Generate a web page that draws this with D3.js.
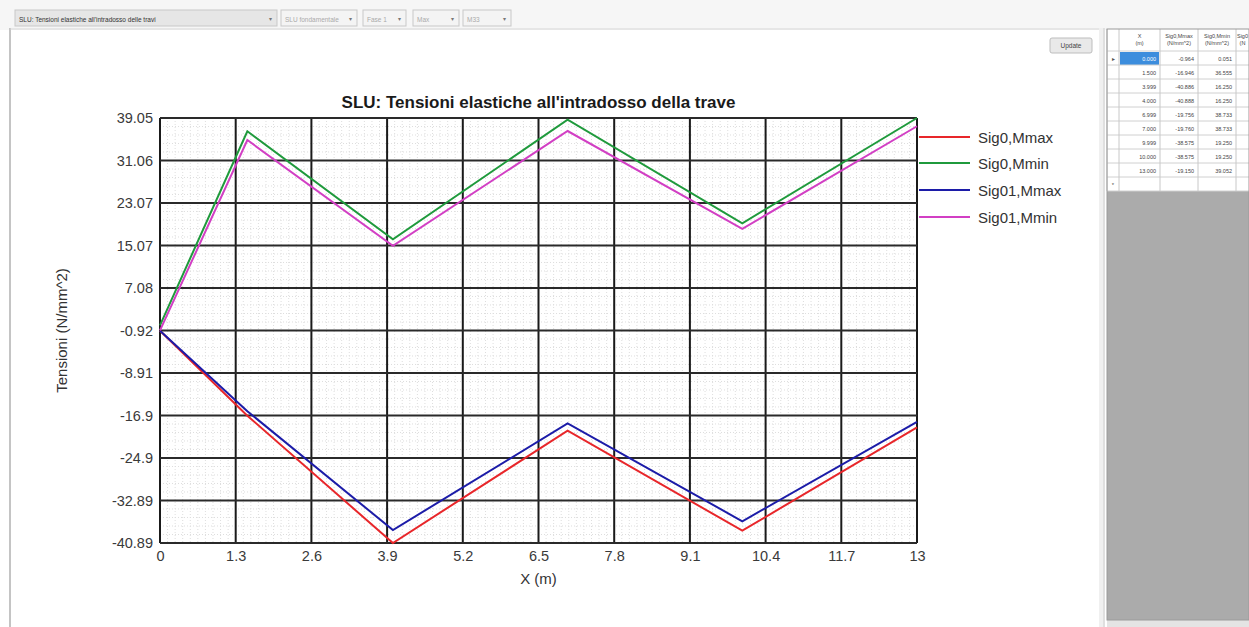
<!DOCTYPE html>
<html>
<head>
<meta charset="utf-8">
<script src="https://cdn.jsdelivr.net/npm/d3@7"></script>
<style>
  html, body { margin: 0; padding: 0; background: #ffffff; }
  svg { display: block; font-family: Arial, "Liberation Sans", sans-serif; }
</style>
</head>
<body>
<svg id="chart" width="1249" height="627"></svg>
<script>
// Stations along the beam (m)
const stations = [0, 1.5, 4, 7, 10, 13];

// Stresses at the lower fibre (N/mm^2)
const sig0Mmax  = [-0.964, -16.946, -40.888, -19.756, -38.575, -19.150];
const sig0Mmin  = [0.051, 36.555, 16.250, 38.733, 19.250, 39.052];
const sig01Mmax = [-0.95, -16.1, -38.45, -18.4, -36.8, -18.1];
const sig01Mmin = [-0.9, 34.9, 15.0, 36.6, 18.2, 37.5];

const seriesNames  = ["Sig0,Mmax", "Sig0,Mmin", "Sig01,Mmax", "Sig01,Mmin"];
const seriesColors = ["#e8262a", "#1f9a3c", "#1c1ca8", "#d23fc4"];

// Axis tick labels
const xTickLabels = ["0", "1.3", "2.6", "3.9", "5.2", "6.5", "7.8", "9.1", "10.4", "11.7", "13"];
const yTickLabels = ["39.05", "31.06", "23.07", "15.07", "7.08", "-0.92", "-8.91", "-16.9", "-24.9", "-32.89", "-40.89"];

// Results grid shown beside the chart
const gridX     = ["0.000", "1.500", "3.999", "4.000", "6.999", "7.000", "9.999", "10.000", "13.000"];
const gridMmax  = ["-0.964", "-16.946", "-40.886", "-40.888", "-19.756", "-19.760", "-38.575", "-38.575", "-19.150"];
const gridMmin  = ["0.051", "36.555", "16.250", "16.250", "38.733", "38.733", "19.250", "19.250", "39.052"];

(function draw() {
const svg = d3.select("#chart");

// ---------- window chrome ----------
svg.append("rect").attr("x", 0).attr("y", 0).attr("width", 1249).attr("height", 627).attr("fill", "#ffffff");
svg.append("rect").attr("x", 0).attr("y", 0).attr("width", 1249).attr("height", 30).attr("fill", "#f6f6f6");

// toolbar combo boxes
const combos = [
  {x: 15, w: 262, t: "SLU: Tensioni elastiche all'intradosso delle travi"},
  {x: 281, w: 76, t: "SLU fondamentale"},
  {x: 363, w: 43, t: "Fase 1"},
  {x: 413, w: 46, t: "Max"},
  {x: 463, w: 48, t: "M33"}
];
combos.forEach(c => {
  const g = svg.append("g");
  g.append("rect").attr("x", c.x).attr("y", 10).attr("width", c.w).attr("height", 16)
    .attr("fill", c.x === 15 ? "#e6e6e6" : "#f4f4f4").attr("stroke", "#c8c8c8");
  g.append("text").attr("x", c.x + 4).attr("y", 21.5).attr("font-size", 6.5)
    .attr("fill", c.x === 15 ? "#333" : "#aaa").text(c.t);
  g.append("text").attr("x", c.x + c.w - 8).attr("y", 21).attr("font-size", 6).attr("fill", "#777").text("▾");
});

// chart panel frame
svg.append("line").attr("x1", 10).attr("x2", 10).attr("y1", 28).attr("y2", 627).attr("stroke", "#c4c4c4").attr("stroke-width", 2);
svg.append("line").attr("x1", 10).attr("x2", 1100).attr("y1", 29).attr("y2", 29).attr("stroke", "#d6d6d6");
svg.append("rect").attr("x", 1099).attr("y", 28).attr("width", 6).attr("height", 599).attr("fill", "#f0f0f0");
svg.append("line").attr("x1", 1104).attr("x2", 1104).attr("y1", 28).attr("y2", 627).attr("stroke", "#cfcfcf");

// update button
svg.append("rect").attr("x", 1050).attr("y", 38).attr("width", 42).attr("height", 15).attr("rx", 2)
  .attr("fill", "#e9e9e9").attr("stroke", "#bdbdbd");
svg.append("text").attr("x", 1071).attr("y", 48).attr("text-anchor", "middle").attr("font-size", 6.5)
  .attr("fill", "#444").text("Update");

// ---------- plot ----------
const pL = 160, pR = 917, pT = 118, pB = 543;
const x = d3.scaleLinear().domain([0, 13]).range([pL, pR]);
const y = d3.scaleLinear().domain([+yTickLabels[yTickLabels.length - 1], +yTickLabels[0]]).range([pB, pT]);

const xTicks = xTickLabels.map(Number);
const yTicks = yTickLabels.map(Number);

const plot = svg.append("g");

// minor grid
const xMinor = [];
for (let i = 0; i < xTicks.length - 1; i++) {
  for (let k = 1; k < 10; k++) xMinor.push(xTicks[i] + (xTicks[i + 1] - xTicks[i]) * k / 10);
}
const yMinor = [];
for (let i = 0; i < yTicks.length - 1; i++) {
  for (let k = 1; k < 5; k++) yMinor.push(yTicks[i] + (yTicks[i + 1] - yTicks[i]) * k / 5);
}
plot.selectAll(".vminor").data(xMinor).enter().append("line")
  .attr("x1", d => x(d)).attr("x2", d => x(d)).attr("y1", pT).attr("y2", pB)
  .attr("stroke", "#dedede").attr("stroke-width", 1).attr("stroke-dasharray", "1,2");
plot.selectAll(".hminor").data(yMinor).enter().append("line")
  .attr("x1", pL).attr("x2", pR).attr("y1", d => y(d)).attr("y2", d => y(d))
  .attr("stroke", "#dedede").attr("stroke-width", 1).attr("stroke-dasharray", "1,2");

// major grid
plot.selectAll(".vmajor").data(xTicks).enter().append("line")
  .attr("x1", d => x(d)).attr("x2", d => x(d)).attr("y1", pT).attr("y2", pB)
  .attr("stroke", "#1a1a1a").attr("stroke-width", 2);
plot.selectAll(".hmajor").data(yTicks).enter().append("line")
  .attr("x1", pL).attr("x2", pR).attr("y1", d => y(d)).attr("y2", d => y(d))
  .attr("stroke", "#2a2a2a").attr("stroke-width", 2);

// axes (labels only, frame is the major grid)
const xAxis = d3.axisBottom(x).tickValues(xTicks).tickSize(0).tickPadding(8)
  .tickFormat((d, i) => xTickLabels[i]);
const yAxis = d3.axisLeft(y).tickValues(yTicks).tickSize(0).tickPadding(7)
  .tickFormat((d, i) => yTickLabels[i]);

const gx = svg.append("g").attr("transform", `translate(0,${pB})`).call(xAxis);
const gy = svg.append("g").attr("transform", `translate(${pL},0)`).call(yAxis);
[gx, gy].forEach(g => {
  g.select(".domain").remove();
  g.selectAll("text").attr("font-size", 14.5).attr("fill", "#3a3a3a")
    .attr("font-family", "Arial, 'Liberation Sans', sans-serif");
});

// series lines
const allSeries = [sig0Mmax, sig0Mmin, sig01Mmax, sig01Mmin];
const line = d3.line().x((d, i) => x(stations[i])).y(d => y(d));
allSeries.forEach((s, i) => {
  plot.append("path").datum(s).attr("d", line).attr("fill", "none")
    .attr("stroke", seriesColors[i]).attr("stroke-width", 2).attr("stroke-linejoin", "miter");
});

// title
svg.append("text").attr("x", (pL + pR) / 2).attr("y", 108).attr("text-anchor", "middle")
  .attr("font-size", 17).attr("font-weight", "bold").attr("fill", "#1a1a1a")
  .text("SLU: Tensioni elastiche all'intradosso della trave");

// axis titles
svg.append("text").attr("x", (pL + pR) / 2).attr("y", 584).attr("text-anchor", "middle")
  .attr("font-size", 15).attr("fill", "#333").text("X (m)");
svg.append("text").attr("transform", `translate(67,${(pT + pB) / 2}) rotate(-90)`)
  .attr("text-anchor", "middle").attr("font-size", 15).attr("fill", "#333").text("Tensioni (N/mm^2)");

// legend
const legendY = [137, 163, 190, 217];
seriesNames.forEach((n, i) => {
  svg.append("line").attr("x1", 919).attr("x2", 970).attr("y1", legendY[i]).attr("y2", legendY[i])
    .attr("stroke", seriesColors[i]).attr("stroke-width", 2);
  svg.append("text").attr("x", 978).attr("y", legendY[i] + 5.5).attr("font-size", 15)
    .attr("fill", "#333").text(n);
});

// ---------- results grid ----------
const tx0 = 1107, headTop = 29, headH = 22, rowH = 14;
const colX = [tx0, 1119, 1160, 1198, 1236, 1249];
const nRows = gridX.length + 1;
const tableBottom = headTop + headH + nRows * rowH;

svg.append("rect").attr("x", tx0).attr("y", tableBottom).attr("width", 1249 - tx0).attr("height", 620 - tableBottom)
  .attr("fill", "#ababab");
svg.append("rect").attr("x", tx0).attr("y", 620).attr("width", 1249 - tx0).attr("height", 7).attr("fill", "#e4e4e4");
svg.append("rect").attr("x", tx0).attr("y", headTop).attr("width", 1249 - tx0).attr("height", tableBottom - headTop)
  .attr("fill", "#ffffff");

// header
const heads = [["", ""], ["X", "(m)"], ["Sig0,Mmax", "(N/mm^2)"], ["Sig0,Mmin", "(N/mm^2)"], ["Sig0", "(N"]];
heads.forEach((h, i) => {
  const cx = (colX[i] + colX[i + 1]) / 2;
  svg.append("text").attr("x", cx).attr("y", headTop + 9).attr("text-anchor", "middle")
    .attr("font-size", 5.5).attr("fill", "#444").text(h[0]);
  svg.append("text").attr("x", cx).attr("y", headTop + 16).attr("text-anchor", "middle")
    .attr("font-size", 5.5).attr("fill", "#444").text(h[1]);
});

// rows
const rowsTop = headTop + headH;
gridX.forEach((v, r) => {
  const yy = rowsTop + r * rowH;
  if (r === 0) {
    svg.append("rect").attr("x", colX[1] + 1).attr("y", yy + 1).attr("width", colX[2] - colX[1] - 2)
      .attr("height", rowH - 1).attr("fill", "#3c8ddd");
    svg.append("text").attr("x", tx0 + 6).attr("y", yy + 9.5).attr("text-anchor", "middle")
      .attr("font-size", 6).attr("fill", "#555").text("▸");
  }
  svg.append("text").attr("x", colX[2] - 4).attr("y", yy + 9.5).attr("text-anchor", "end")
    .attr("font-size", 5.5).attr("fill", r === 0 ? "#ffffff" : "#444").text(v);
  svg.append("text").attr("x", colX[3] - 4).attr("y", yy + 9.5).attr("text-anchor", "end")
    .attr("font-size", 5.5).attr("fill", "#444").text(gridMmax[r]);
  svg.append("text").attr("x", colX[4] - 4).attr("y", yy + 9.5).attr("text-anchor", "end")
    .attr("font-size", 5.5).attr("fill", "#444").text(gridMmin[r]);
});
svg.append("text").attr("x", tx0 + 6).attr("y", rowsTop + gridX.length * rowH + 9.5).attr("text-anchor", "middle")
  .attr("font-size", 6).attr("fill", "#555").text("*");

// table rules
for (let i = 0; i <= nRows; i++) {
  const yy = rowsTop + i * rowH;
  svg.append("line").attr("x1", tx0).attr("x2", 1249).attr("y1", yy).attr("y2", yy)
    .attr("stroke", "#d0d0d0").attr("stroke-width", 1);
}
colX.slice(0, 5).forEach(cx => {
  svg.append("line").attr("x1", cx).attr("x2", cx).attr("y1", headTop).attr("y2", tableBottom)
    .attr("stroke", "#c8c8c8").attr("stroke-width", 1);
});
svg.append("rect").attr("x", tx0).attr("y", headTop).attr("width", 1249 - tx0).attr("height", 620 - headTop)
  .attr("fill", "none").attr("stroke", "#9a9a9a");
})();
</script>
</body>
</html>
